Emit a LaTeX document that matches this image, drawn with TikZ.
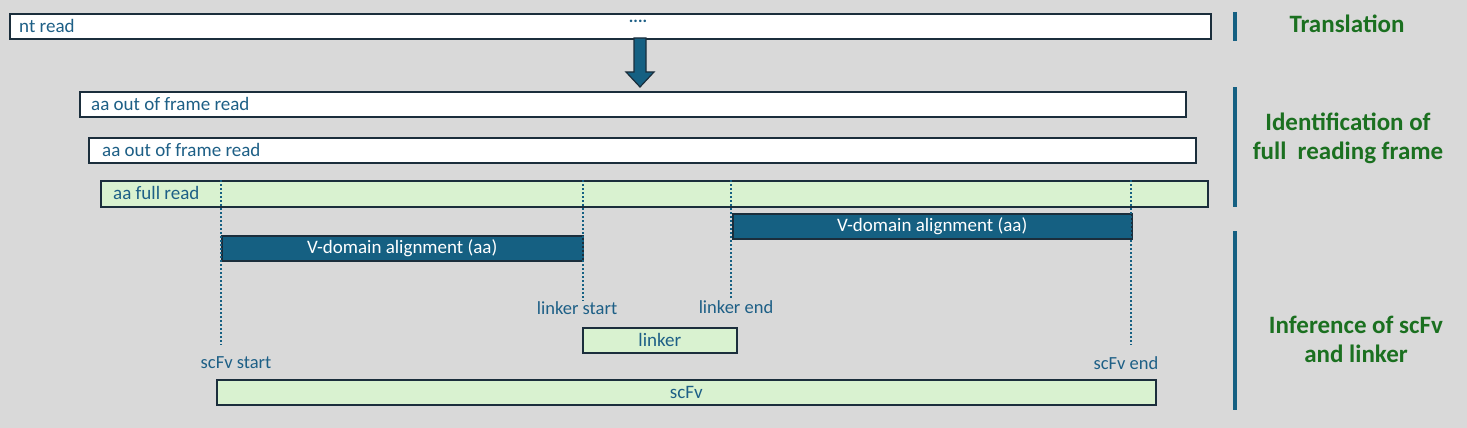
\documentclass[tikz,border=0pt]{standalone}
\usepackage{fontspec}
\setmainfont{Carlito}
\definecolor{bg}{HTML}{D9D9D9}
\definecolor{edge}{HTML}{1B2E3C}
\definecolor{teal}{HTML}{156082}
\definecolor{txtblue}{HTML}{1D5F86}
\definecolor{lgreen}{HTML}{D9F2D0}
\definecolor{dgreen}{HTML}{1B7020}
\tikzset{
  boxfont/.style={font=\fontsize{19}{22}\selectfont},
  bar/.style={draw=edge, line width=1.6pt, anchor=north west, inner sep=0pt, boxfont, text=txtblue},
  whitebar/.style={bar, fill=white},
  greenbar/.style={bar, fill=lgreen},
  bluebar/.style={bar, fill=teal, text=white},
  inlabel/.style={anchor=west, boxfont, text=txtblue, inner sep=0pt},
  marker/.style={draw=teal, line width=2.2pt, dash pattern=on 2pt off 2pt},
  tick/.style={font=\fontsize{18.5}{20}\selectfont, text=txtblue, inner sep=1pt},
  divider/.style={draw=teal, line width=3.5pt},
  title/.style={font=\fontsize{25}{29}\selectfont\bfseries, text=dgreen, align=center},
}
\begin{document}
\begin{tikzpicture}[x=1pt,y=-1pt]
\fill[bg] (0,0) rectangle (1467,428);
\useasboundingbox (0,0) rectangle (1467,428);

% nt read
\node[whitebar, minimum width=1201pt, minimum height=25pt] (nt) at (9,13) {};
\node[inlabel] (ntlab) at (19,26) {nt read};
\node[font=\fontsize{17}{18}\selectfont\bfseries, text=txtblue, inner sep=0pt] (dots) at (638,21.5) {....};

% arrow (block shape)
\draw[draw=edge, fill=teal, line width=1.2pt, line join=miter]
  (634,38) -- (646,38) -- (646,72) -- (654,72) -- (640,87) -- (626,72) -- (634,72) -- cycle;

% aa out of frame reads
\node[whitebar, minimum width=1106pt, minimum height=25pt] (oof1) at (79,91) {};
\node[inlabel] (oof1lab) at (91,103.5) {aa out of frame read};
\node[whitebar, minimum width=1107pt, minimum height=25pt] (oof2) at (88,137) {};
\node[inlabel] (oof2lab) at (102,149.5) {aa out of frame read};

% full read
\node[greenbar, minimum width=1107pt, minimum height=26pt] (full) at (100,180) {};
\node[inlabel] (fulllab) at (113,193) {aa full read};

% V-domain alignments
\node[bluebar, minimum width=361pt, minimum height=25pt] (v1) at (221,235) {V-domain alignment (aa)};
\node[bluebar, minimum width=399pt, minimum height=25pt] (v2) at (732,213) {V-domain alignment (aa)};

% dotted markers
\coordinate (m1t) at (221,180);
\coordinate (m1b) at (221,345);
\coordinate (m2t) at (583,180);
\coordinate (m3t) at (731,180);
\coordinate (m4t) at (1131,180);
\coordinate (m4b) at (1131,345);
\node[tick] (ls) at (577,308) {linker start};
\node[tick] (le) at (736,307) {linker end};
\node[tick] (ss) at (236,363) {scFv start};
\node[tick] (se) at (1126,363) {scFv end};
\draw[marker] (m1t) -- (m1b);
\draw[marker] (m2t) -- (m2t |- ls.north);
\draw[marker] (m3t) -- (m3t |- le.north);
\draw[marker] (m4t) -- (m4b);

% linker and scFv
\node[greenbar, minimum width=154pt, minimum height=25pt] (linker) at (582,327) {linker};
\node[greenbar, minimum width=939pt, minimum height=25pt] (scfv) at (216,379) {scFv};

% dividers
\coordinate (d1a) at (1235,12); \coordinate (d1b) at (1235,41);
\coordinate (d2a) at (1235,87); \coordinate (d2b) at (1235,207);
\coordinate (d3a) at (1235,231); \coordinate (d3b) at (1235,410);
\draw[divider] (d1a) -- (d1b);
\draw[divider] (d2a) -- (d2b);
\draw[divider] (d3a) -- (d3b);

% titles
\node[title] (t1) at (1347,24) {Translation};
\node[title] (t2) at (1348,138) {Identification of\\full\ \ reading frame};
\node[title] (t3) at (1356,339) {Inference of scFv\\and linker};
\end{tikzpicture}
\end{document}
